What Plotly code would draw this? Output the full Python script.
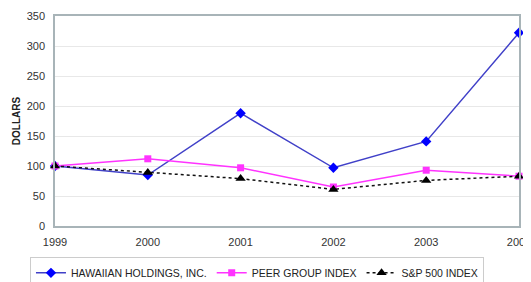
import plotly.graph_objects as go

years = [1999, 2000, 2001, 2002, 2003, 2004]
hawaiian = [100, 85, 188, 97, 141, 322]
peer = [100, 112, 97, 65, 93, 83]
sp500 = [100, 89, 79, 61, 76, 83]
y_ticks = [0, 50, 100, 150, 200, 250, 300, 350]

fig = go.Figure()
fig.add_trace(go.Scatter(x=years, y=hawaiian, name="HAWAIIAN HOLDINGS, INC.",
                         mode="lines+markers", cliponaxis=False,
                         line=dict(color="#4040c8", width=1.5),
                         marker=dict(symbol="diamond", size=8, color="#0000ff")))
fig.add_trace(go.Scatter(x=years, y=peer, name="PEER GROUP INDEX",
                         mode="lines+markers", cliponaxis=False,
                         line=dict(color="#ff33ff", width=1.5),
                         marker=dict(symbol="square", size=7, color="#ff33ff")))
fig.add_trace(go.Scatter(x=years, y=sp500, name="S&P 500 INDEX",
                         mode="lines+markers", cliponaxis=False,
                         line=dict(color="#111111", width=1.5, dash="dot"),
                         marker=dict(symbol="triangle-up", size=9, color="#000000")))

fig.update_layout(
    width=523, height=274,
    margin=dict(l=47, r=12, t=8, b=56),
    paper_bgcolor="white", plot_bgcolor="white",
    font=dict(family="Liberation Sans, Arial, sans-serif", size=11, color="#333333"),
    showlegend=True,
    legend=dict(orientation="h", xref="container", yref="container",
                x=0.042, xanchor="left", y=0.09, yanchor="top",
                bordercolor="#cccccc", borderwidth=1, font=dict(size=10.5, color="#222222"),
                itemwidth=30, tracegroupgap=0),
)
fig.update_xaxes(range=[1999, 2004], tickvals=years, ticktext=[str(y) for y in years],
                 showgrid=False, showline=True, linecolor="#a8b4b8", linewidth=1.5,
                 mirror=True, ticks="", zeroline=False, tickfont=dict(size=11),
                 ticklabelstandoff=5, automargin=False, ticklabeloverflow="allow")
fig.update_yaxes(range=[0, 350], tickvals=y_ticks, showgrid=True, gridcolor="#e8e8e8",
                 showline=True, linecolor="#a8b4b8", linewidth=1.5, mirror=True,
                 ticks="", zeroline=False, tickfont=dict(size=11),
                 ticklabelstandoff=6, automargin=False,
                 title=dict(text="<b>DOLLARS</b>", font=dict(size=10, color="#222222"), standoff=4))

fig.write_html("out.html")
